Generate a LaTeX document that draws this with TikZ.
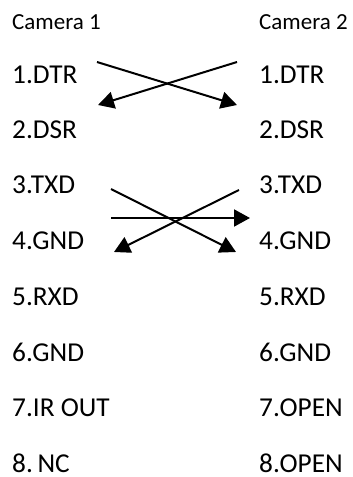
\documentclass[tikz,border=0pt]{standalone}
\usepackage{fontspec}
\setmainfont{Carlito}
\usetikzlibrary{arrows.meta}
\begin{document}
\begin{tikzpicture}[x=1pt,y=-1pt,
  lbl/.style={anchor=base west,inner sep=0pt,font=\fontsize{27.3}{30}\selectfont},
  cam/.style={anchor=base west,inner sep=0pt,font=\fontsize{23}{26}\selectfont},
  wire/.style={line width=2pt,-{Triangle[length=16pt,width=17pt]}}]
\useasboundingbox (0,0) rectangle (353,477);
\node[cam] (c1) at (12,29) {Camera 1};
\node[cam] (c2) at (259,29) {Camera 2};
\node[lbl] (a1) at (12,83.5) {1.DTR};
\node[lbl] (a2) at (12,138.5) {2.DSR};
\node[lbl] (a3) at (12,193.5) {3.TXD};
\node[lbl] (a4) at (12,249.5) {4.GND};
\node[lbl] (a5) at (12,305) {5.RXD};
\node[lbl] (a6) at (12,361) {6.GND};
\node[lbl] (a7) at (12,416) {7.IR OUT};
\node[lbl] (a8) at (12,472) {8.\hspace{0.17em}NC};
\node[lbl] (b1) at (259,83.5) {1.DTR};
\node[lbl] (b2) at (259,138.5) {2.DSR};
\node[lbl] (b3) at (259,193.5) {3.TXD};
\node[lbl] (b4) at (259,249.5) {4.GND};
\node[lbl] (b5) at (259,305) {5.RXD};
\node[lbl] (b6) at (259,361) {6.GND};
\node[lbl] (b7) at (259,416) {7.OPEN};
\node[lbl] (b8) at (259,472) {8.OPEN};
\coordinate (p1) at (97,62);
\coordinate (q1) at (237,105);
\coordinate (p2) at (237,62);
\coordinate (q2) at (98,105);
\coordinate (p3) at (111,189);
\coordinate (q3) at (236,252);
\coordinate (p4) at (239,190);
\coordinate (q4) at (114,252);
\coordinate (p5) at (111,218);
\coordinate (q5) at (250,218);
\draw[wire] (p1) -- (q1);
\draw[wire] (p2) -- (q2);
\draw[wire] (p3) -- (q3);
\draw[wire] (p4) -- (q4);
\draw[wire] (p5) -- (q5);
\end{tikzpicture}
\end{document}
